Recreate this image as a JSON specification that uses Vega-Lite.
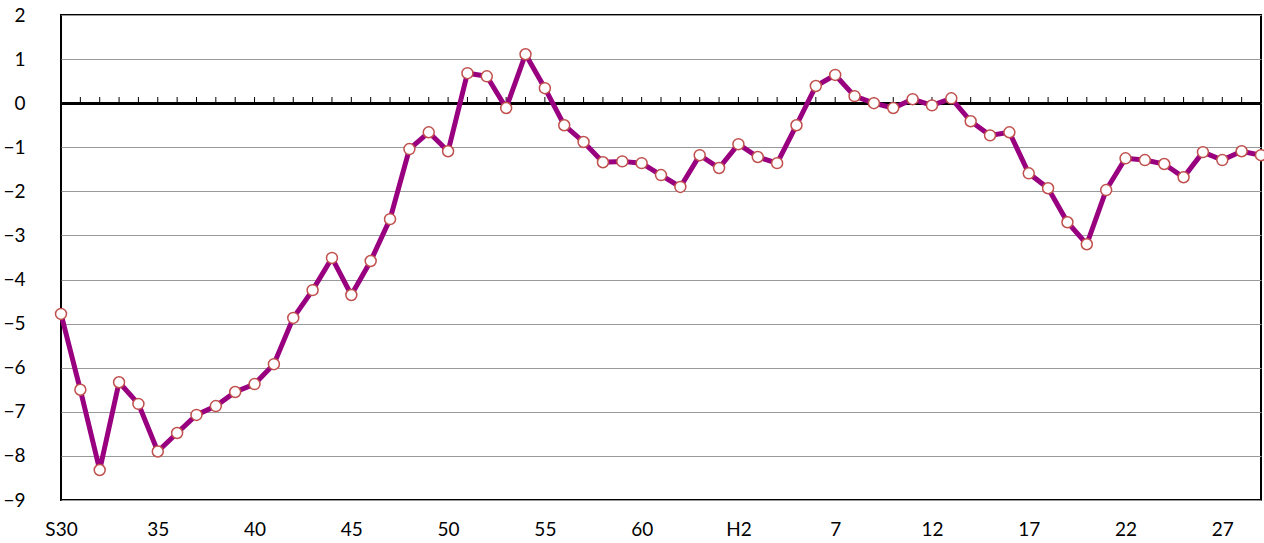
{
  "$schema": "https://vega.github.io/schema/vega-lite/v6.json",
  "width": 1200,
  "height": 485,
  "autosize": {"type": "none"},
  "padding": {"left": 61, "top": 15, "right": 3, "bottom": 43},
  "background": "white",
  "config": {
    "view": {"stroke": "black", "strokeWidth": 2},
    "axis": {"labelFont": "Lato", "labelFontSize": 19, "labelColor": "black", "title": null}
  },
  "data": {
    "values": [
      {"label": "S30", "v": -4.78}, {"label": "31", "v": -6.5}, {"label": "32", "v": -8.32},
      {"label": "33", "v": -6.33}, {"label": "34", "v": -6.82}, {"label": "35", "v": -7.9},
      {"label": "36", "v": -7.48}, {"label": "37", "v": -7.07}, {"label": "38", "v": -6.87},
      {"label": "39", "v": -6.55}, {"label": "40", "v": -6.37}, {"label": "41", "v": -5.92},
      {"label": "42", "v": -4.87}, {"label": "43", "v": -4.24}, {"label": "44", "v": -3.51},
      {"label": "45", "v": -4.35}, {"label": "46", "v": -3.58}, {"label": "47", "v": -2.63},
      {"label": "48", "v": -1.04}, {"label": "49", "v": -0.66}, {"label": "50", "v": -1.09},
      {"label": "51", "v": 0.68}, {"label": "52", "v": 0.61}, {"label": "53", "v": -0.11},
      {"label": "54", "v": 1.11}, {"label": "55", "v": 0.34}, {"label": "56", "v": -0.5},
      {"label": "57", "v": -0.88}, {"label": "58", "v": -1.34}, {"label": "59", "v": -1.32},
      {"label": "60", "v": -1.36}, {"label": "61", "v": -1.63}, {"label": "62", "v": -1.9},
      {"label": "63", "v": -1.18}, {"label": "H1", "v": -1.47}, {"label": "H2", "v": -0.93},
      {"label": "3", "v": -1.22}, {"label": "4", "v": -1.36}, {"label": "5", "v": -0.5},
      {"label": "6", "v": 0.39}, {"label": "7", "v": 0.64}, {"label": "8", "v": 0.16},
      {"label": "9", "v": 0.0}, {"label": "10", "v": -0.11}, {"label": "11", "v": 0.09},
      {"label": "12", "v": -0.05}, {"label": "13", "v": 0.11}, {"label": "14", "v": -0.41},
      {"label": "15", "v": -0.73}, {"label": "16", "v": -0.66}, {"label": "17", "v": -1.59},
      {"label": "18", "v": -1.93}, {"label": "19", "v": -2.7}, {"label": "20", "v": -3.2},
      {"label": "21", "v": -1.97}, {"label": "22", "v": -1.25}, {"label": "23", "v": -1.29},
      {"label": "24", "v": -1.38}, {"label": "25", "v": -1.68}, {"label": "26", "v": -1.11},
      {"label": "27", "v": -1.29}, {"label": "28", "v": -1.09}, {"label": "29", "v": -1.18}
    ]
  },
  "encoding": {
    "x": {
      "field": "label", "type": "ordinal", "sort": null,
      "scale": {"type": "point", "padding": 0},
      "axis": {
        "values": ["S30", "35", "40", "45", "50", "55", "60", "H2", "7", "12", "17", "22", "27"],
        "labelAngle": 0, "grid": false, "domain": false, "ticks": false, "labelPadding": 20
      }
    }
  },
  "layer": [
    {
      "mark": {"type": "rule", "color": "black", "strokeWidth": 1},
      "encoding": {
        "y": {"datum": 0, "type": "quantitative", "scale": {"domain": [-9, 2], "nice": false},
          "axis": {"values": [-9, -8, -7, -6, -5, -4, -3, -2, -1, 0, 1, 2], "grid": true, "gridColor": "#999999", "gridWidth": 1, "domain": false, "ticks": false, "labelPadding": 36}},
        "y2": {"datum": 0.14}
      }
    },
    {
      "mark": {"type": "rule", "color": "black", "strokeWidth": 2},
      "encoding": {"y": {"datum": 0, "type": "quantitative"}, "x": {"value": 0}, "x2": {"value": 1200}}
    },
    {
      "mark": {"type": "line", "color": "#990080", "strokeWidth": 5},
      "encoding": {"y": {"field": "v", "type": "quantitative"}}
    },
    {
      "mark": {"type": "point", "shape": "circle", "filled": true, "fill": "white", "stroke": "#C0504D", "strokeWidth": 1.5, "size": 120, "opacity": 1},
      "encoding": {"y": {"field": "v", "type": "quantitative"}}
    }
  ]
}
